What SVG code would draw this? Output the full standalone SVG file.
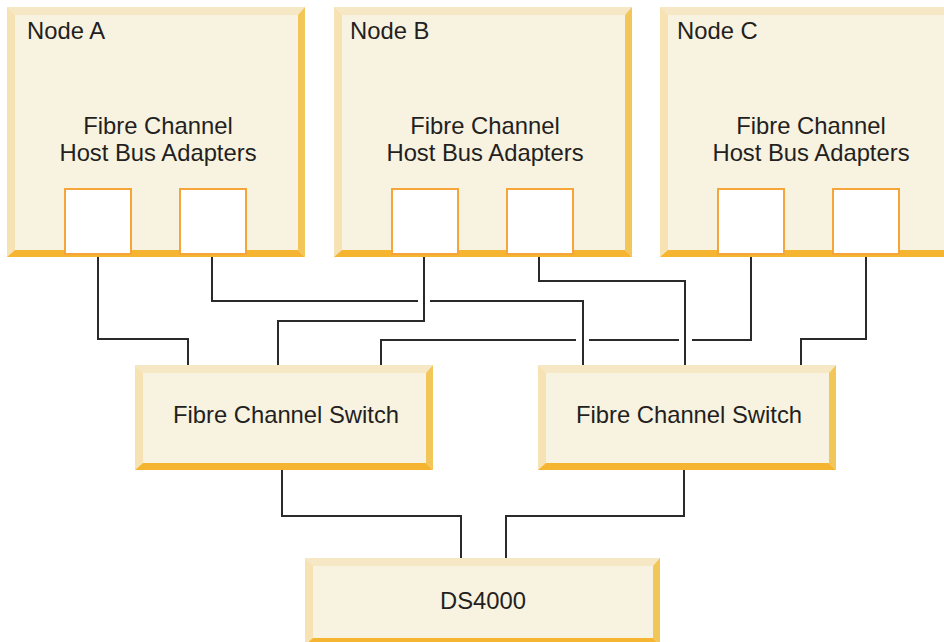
<svg xmlns="http://www.w3.org/2000/svg" width="944" height="642" viewBox="0 0 944 642">
<style>
.top{fill:#f6e8c4}
.lft{fill:#f6e2b2}
.rgt{fill:#f3c65a}
.bot{fill:#f5b530}
.face{fill:#f8f2e1}
.port{fill:#ffffff;stroke:#f6a53a;stroke-width:2}
.lbl{font-family:"Liberation Sans",Arial,sans-serif;font-size:23.8px;fill:#231f20}
.ctr{text-anchor:middle}
.wire{fill:none;stroke:#2a2a2a;stroke-width:2}
</style>
<defs>
<g id="nodeShape">
<rect class="face" x="0" y="0" width="298" height="250"/>
<polygon class="top" points="0,0 298,0 291,8 8,8"/>
<polygon class="lft" points="0,0 8,8 8,243 0,250"/>
<polygon class="rgt" points="298,0 298,250 291,243 291,8"/>
<polygon class="bot" points="0,250 8,243 291,243 298,250"/>
<rect class="port" x="58" y="182" width="66" height="65"/>
<rect class="port" x="173" y="182" width="66" height="65"/>
</g>
<g id="switchShape">
<rect class="face" x="0" y="0" width="298" height="105"/>
<polygon class="top" points="0,0 298,0 291,8 8,8"/>
<polygon class="lft" points="0,0 8,8 8,98 0,105"/>
<polygon class="rgt" points="298,0 298,105 291,98 291,8"/>
<polygon class="bot" points="0,105 8,98 291,98 298,105"/>
</g>
</defs>
<g id="connectors">
<path class="wire" d="M98,255 V339 H188 V365"/>
<path class="wire" d="M212,255 V301 H418 M430,301 H583 V365"/>
<path class="wire" d="M424,255 V321 H278 V365"/>
<path class="wire" d="M539,255 V281 H685 V365"/>
<path class="wire" d="M751,255 V340 H692 M679,340 H589 M576,340 H381 V365"/>
<path class="wire" d="M866,255 V339 H801 V365"/>
<path class="wire" d="M282,470 V516 H461 V558"/>
<path class="wire" d="M684,470 V516 H506 V558"/>
</g>
<g id="nodeA">
<use href="#nodeShape" x="7" y="7"/>
<text class="lbl" x="27" y="39">Node A</text>
<text class="lbl ctr" x="158" y="134">Fibre Channel</text>
<text class="lbl ctr" x="158" y="161">Host Bus Adapters</text>
</g>
<g id="nodeB">
<use href="#nodeShape" x="334" y="7"/>
<text class="lbl" x="350" y="39">Node B</text>
<text class="lbl ctr" x="485" y="134">Fibre Channel</text>
<text class="lbl ctr" x="485" y="161">Host Bus Adapters</text>
</g>
<g id="nodeC">
<use href="#nodeShape" x="660" y="7"/>
<text class="lbl" x="677" y="39">Node C</text>
<text class="lbl ctr" x="811" y="134">Fibre Channel</text>
<text class="lbl ctr" x="811" y="161">Host Bus Adapters</text>
</g>
<g id="switch1">
<use href="#switchShape" x="135" y="365"/>
<text class="lbl ctr" x="286" y="423">Fibre Channel Switch</text>
</g>
<g id="switch2">
<use href="#switchShape" x="538" y="365"/>
<text class="lbl ctr" x="689" y="423">Fibre Channel Switch</text>
</g>
<g id="ds4000">
<rect class="face" x="305" y="558" width="355" height="87"/>
<polygon class="top" points="305,558 660,558 653,566 313,566"/>
<polygon class="lft" points="305,558 313,566 313,638 305,645"/>
<polygon class="rgt" points="660,558 660,645 653,638 653,566"/>
<polygon class="bot" points="305,645 313,638 653,638 660,645"/>
<text class="lbl ctr" x="483" y="609">DS4000</text>
</g>
</svg>
